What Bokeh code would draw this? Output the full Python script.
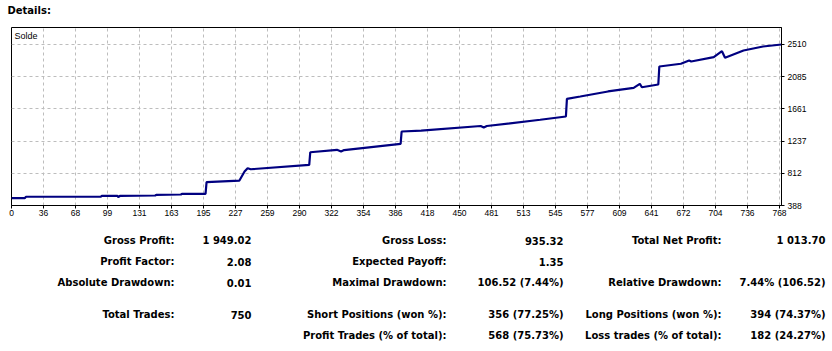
from bokeh.plotting import figure
from bokeh.models import Range1d, FixedTicker, Label
from bokeh.core.properties import value
from bokeh.embed import file_html
from bokeh.resources import INLINE

# ---- data -------------------------------------------------------------
trade_no = [0, 13, 14, 87, 88, 103, 104, 106, 140, 141, 165, 166, 189, 190,
            222, 227, 230, 233, 290, 291, 317, 321, 324, 379, 380, 399, 457,
            460, 463, 515, 540, 541, 554, 581, 606, 612, 614, 630, 631, 652,
            660, 662, 684, 692, 695, 713, 732, 750]
balance = [484, 484, 503, 503, 516, 516, 500, 516, 520, 529, 533, 542, 542, 695,
           717, 836, 880, 866, 924, 1090, 1122, 1100, 1119, 1201, 1363, 1376, 1436,
           1416, 1436, 1518, 1561, 1794, 1825, 1891, 1939, 1992, 1947, 1983, 2220, 2256,
           2299, 2286, 2343, 2422, 2335, 2431, 2484, 2510]

x_tick_labels = ["0", "36", "68", "99", "131", "163", "195", "227", "259", "290",
                 "322", "354", "386", "418", "450", "481", "513", "545", "577",
                 "609", "641", "672", "704", "736", "768"]
y_ticks = [388, 812, 1237, 1661, 2085, 2510]

stat_labels_1 = ["Gross Profit:", "Profit Factor:", "Absolute Drawdown:", "Total Trades:", ""]
stat_values_1 = ["1 949.02", "2.08", "0.01", "750", ""]
stat_labels_2 = ["Gross Loss:", "Expected Payoff:", "Maximal Drawdown:",
                 "Short Positions (won %):", "Profit Trades (% of total):"]
stat_values_2 = ["935.32", "1.35", "106.52 (7.44%)", "356 (77.25%)", "568 (75.73%)"]
stat_labels_3 = ["Total Net Profit:", "", "Relative Drawdown:",
                 "Long Positions (won %):", "Loss trades (% of total):"]
stat_values_3 = ["1 013.70", "", "7.44% (106.52)", "394 (74.37%)", "182 (24.27%)"]

# ---- layout constants -------------------------------------------------
W, H = 832, 351
HEAD_H = 26
CHART_H = 196
FL, FR, FT, FB = 11, 781, 27, 205          # frame edges in page pixels
TICK_FONT = "Liberation Sans"
BOLD_FONT = "DejaVu Sans"


def blank(height, y0, y1):
    f = figure(width=W, height=height, output_backend="svg", toolbar_location=None,
               x_range=Range1d(0, W), y_range=Range1d(y1, y0),
               x_axis_location=None, y_axis_location=None,
               min_border=0, min_border_left=0, min_border_right=0,
               min_border_top=0, min_border_bottom=0)
    f.outline_line_color = None
    f.xgrid.visible = False
    f.ygrid.visible = False
    f.background_fill_color = "white"
    f.border_fill_color = "white"
    return f


# ---- header -------------------------------------------------------------
head = blank(HEAD_H, 0, HEAD_H)
head.text(x=[7], y=[10], text=["Details:"], text_align="left", text_baseline="middle",
          text_font=value(BOLD_FONT), text_font_size=value("10px"), text_font_style="bold",
          text_color="black")

# ---- chart --------------------------------------------------------------
p = figure(width=W, height=CHART_H, output_backend="svg", toolbar_location=None,
           y_axis_location="right",
           x_range=Range1d(0, 750), y_range=Range1d(388, 388 + (FB - FT) * 13.18),
           min_border_left=FL, min_border_right=W - FR,
           min_border_top=FT - HEAD_H, min_border_bottom=HEAD_H + CHART_H - FB)
p.background_fill_color = "white"
p.border_fill_color = "white"
p.outline_line_color = "black"
p.outline_line_width = 1

frame_w = FR - FL
xt = [i * 32 * 750.0 / frame_w for i in range(len(x_tick_labels))]
p.xaxis.ticker = FixedTicker(ticks=xt)
p.xaxis.major_label_overrides = {t: l for t, l in zip(xt, x_tick_labels)}
p.yaxis.ticker = FixedTicker(ticks=y_ticks)

for ax in (p.xaxis, p.yaxis):
    ax.axis_line_color = "black"
    ax.major_tick_line_color = "black"
    ax.major_tick_in = 0
    ax.major_tick_out = 3
    ax.minor_tick_line_color = None
    ax.major_label_text_font = TICK_FONT
    ax.major_label_text_font_size = "8.5px"
    ax.major_label_text_color = "black"
p.xaxis.major_label_standoff = 1
p.yaxis.major_label_standoff = 3

for g in (p.xgrid, p.ygrid):
    g.grid_line_color = "#bdbdbd"
    g.grid_line_dash = "3 3"
    g.grid_line_width = 1

p.line(trade_no, balance, line_color="#000080", line_width=2.2)

p.add_layout(Label(x=3, y=FB - 35, x_units="screen", y_units="screen",
                   text="Solde", text_align="left", text_baseline="middle",
                   text_font=TICK_FONT, text_font_size="9px", text_color="black"))

# ---- statistics table ------------------------------------------------------
top = HEAD_H + CHART_H
stats = blank(H - top, top, H)
row_y = [240, 261, 282, 314, 335]
cols = [(174, 251, stat_labels_1, stat_values_1),
        (446, 563, stat_labels_2, stat_values_2),
        (721, 825, stat_labels_3, stat_values_3)]
xs, ys, texts = [], [], []
for lx, vx, labels, values in cols:
    for y, l, v in zip(row_y, labels, values):
        if l:
            xs.append(lx); ys.append(y); texts.append(l)
        if v:
            xs.append(vx); ys.append(y); texts.append(v)
stats.text(x=xs, y=ys, text=texts, text_align="right", text_baseline="middle",
           text_font=value(BOLD_FONT), text_font_size=value("10px"), text_font_style="bold",
           text_color="black")

# separate roots: stacked on the page without frame alignment between them
open("out.html", "w").write(file_html([head, p, stats], INLINE))
